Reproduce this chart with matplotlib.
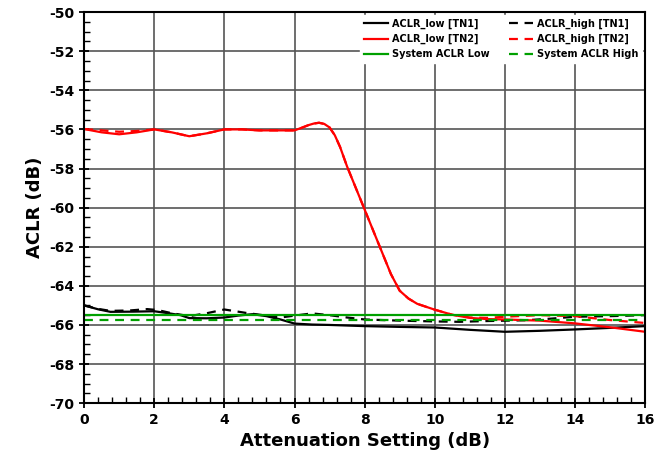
import matplotlib.pyplot as plt
from matplotlib.ticker import MultipleLocator

plt.rcParams["axes.unicode_minus"] = False

# ACLR vs attenuation setting
x_tn2 = [0, 0.5, 1, 1.5, 2, 2.5, 3, 3.5, 4, 4.5, 5, 5.5, 6, 6.2, 6.4, 6.55, 6.7, 6.85,
         7.0, 7.15, 7.3, 7.5, 7.75, 8.0, 8.25, 8.5, 8.75, 9.0, 9.25, 9.5, 10, 10.5, 11,
         11.5, 12, 13, 14, 15, 16]
tn2_low = [-55.98, -56.15, -56.25, -56.15, -56.0, -56.15, -56.35, -56.2, -56.0, -56.0,
           -56.05, -56.05, -56.05, -55.92, -55.78, -55.7, -55.66, -55.72, -55.9, -56.3,
           -56.9, -57.9, -59.0, -60.1, -61.2, -62.3, -63.4, -64.25, -64.65, -64.92,
           -65.22, -65.48, -65.64, -65.7, -65.72, -65.78, -65.92, -66.12, -66.35]
tn2_high = [-55.98, -56.05, -56.12, -56.08, -56.0, -56.15, -56.35, -56.2, -56.0, -56.0,
            -56.05, -56.05, -56.05, -55.92, -55.78, -55.7, -55.66, -55.72, -55.9, -56.3,
            -56.9, -57.9, -59.0, -60.1, -61.2, -62.3, -63.4, -64.25, -64.65, -64.92,
            -65.22, -65.48, -65.62, -65.64, -65.58, -65.5, -65.55, -65.75, -65.9]

x_tn1_low = [0, 0.4, 0.75, 1.4, 2, 2.4, 2.75, 3, 3.5, 4, 4.4, 4.8, 5.2, 5.6, 6, 6.5, 7,
             8, 9, 10, 11, 12, 13, 14, 15, 16]
tn1_low = [-65.0, -65.2, -65.33, -65.32, -65.3, -65.4, -65.5, -65.65, -65.66, -65.62,
           -65.52, -65.45, -65.55, -65.72, -65.93, -65.98, -66.0, -66.06, -66.1, -66.13,
           -66.25, -66.35, -66.3, -66.23, -66.15, -66.06]

x_tn1_high = [0, 0.4, 0.75, 1.3, 1.8, 2.1, 2.5, 3, 3.5, 4, 4.6, 5.1, 5.6, 6.1, 6.5, 7,
              7.5, 8, 9, 10, 10.7, 11.5, 12.6, 13.3, 14, 15, 16]
tn1_high = [-65.0, -65.18, -65.28, -65.26, -65.19, -65.24, -65.4, -65.55, -65.4, -65.21,
            -65.38, -65.5, -65.62, -65.5, -65.41, -65.5, -65.62, -65.72, -65.78, -65.82,
            -65.84, -65.8, -65.76, -65.68, -65.58, -65.55, -65.5]

sys_low = -65.5
sys_high = -65.75

fig, ax = plt.subplots(figsize=(6.57, 4.65), dpi=100)
fig.subplots_adjust(left=0.128, right=0.982, top=0.974, bottom=0.133)

ax.plot(x_tn1_low, tn1_low, color="black", lw=1.6, label="ACLR_low [TN1]")
ax.plot(x_tn1_high, tn1_high, color="black", lw=1.6, ls=(0, (4, 3)), label="ACLR_high [TN1]")
ax.plot(x_tn2, tn2_low, color="red", lw=1.6, label="ACLR_low [TN2]")
ax.plot(x_tn2, tn2_high, color="red", lw=1.6, ls=(0, (4, 3)), label="ACLR_high [TN2]")
ax.plot([0, 16], [sys_low, sys_low], color="#00a000", lw=1.6, label="System ACLR Low")
ax.plot([0, 16], [sys_high, sys_high], color="#00a000", lw=1.6, ls=(0, (4, 3)),
        label="System ACLR High")

ax.set_xlim(0, 16)
ax.set_ylim(-70, -50)
ax.xaxis.set_major_locator(MultipleLocator(2))
ax.xaxis.set_minor_locator(MultipleLocator(0.4))
ax.yaxis.set_major_locator(MultipleLocator(2))
ax.yaxis.set_minor_locator(MultipleLocator(0.5))
ax.tick_params(which="major", direction="inout", length=7, width=1.3, labelsize=10)
ax.tick_params(which="minor", direction="in", length=4, width=1)
for lab in ax.get_xticklabels() + ax.get_yticklabels():
    lab.set_fontweight("bold")

ax.grid(True, which="major", color="#555555", lw=1.2)
for s in ax.spines.values():
    s.set_linewidth(1.5)

ax.set_xlabel("Attenuation Setting (dB)", fontsize=13, fontweight="bold")
ax.set_ylabel("ACLR (dB)", fontsize=13, fontweight="bold")

# legend order: row-wise TN1 low / TN1 high, TN2 low / TN2 high, sys low / sys high
h, l = ax.get_legend_handles_labels()
order = [0, 2, 4, 1, 3, 5]
leg = ax.legend([h[i] for i in order], [l[i] for i in order], ncol=2, loc="upper right",
                frameon=True, fancybox=False, framealpha=1, edgecolor="white",
                prop={"weight": "bold", "size": 7}, handlelength=2.5,
                columnspacing=2.0, handletextpad=0.4, borderaxespad=0.3)

fig.savefig("out.png", dpi=100)
